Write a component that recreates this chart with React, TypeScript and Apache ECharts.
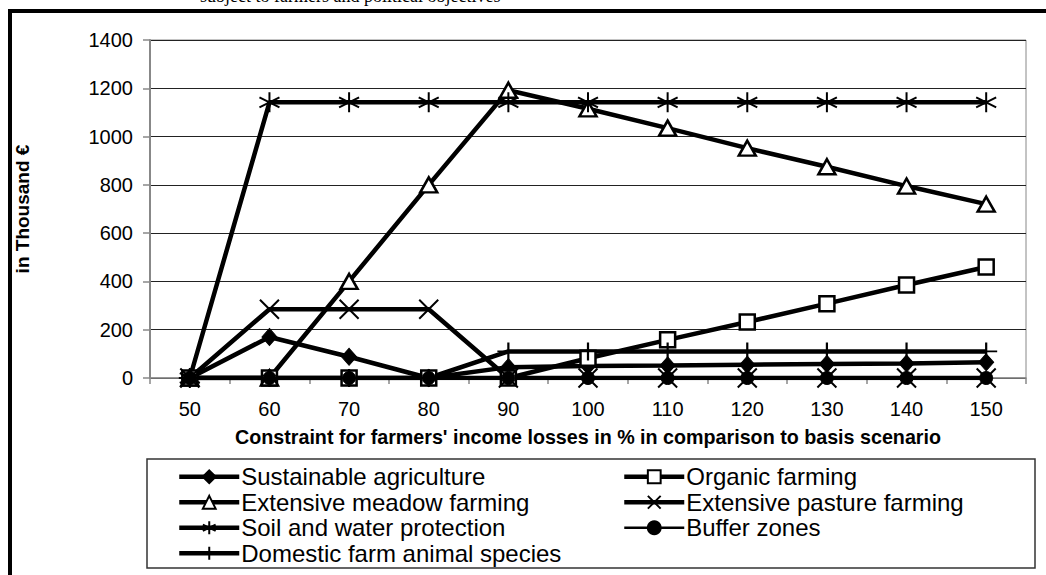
import React, { useEffect, useRef } from "react";
import * as echarts from "echarts";

const categories = ["50", "60", "70", "80", "90", "100", "110", "120", "130", "140", "150"];

const sustainable = [0, 170, 88, 0, 45, 50, 52, 55, 58, 60, 65];
const organic = [0, 0, 0, 0, 0, 82, 158, 232, 308, 385, 460];
const meadow = [0, 0, 400, 800, 1192, 1115, 1035, 952, 875, 795, 720];
const pasture = [0, 285, 285, 285, 0, 0, 0, 0, 0, 0, 0];
const soilWater = [0, 1142, 1142, 1142, 1142, 1142, 1142, 1142, 1142, 1142, 1142];
const buffer = [0, 0, 0, 0, 0, 0, 0, 0, 0, 0, 0];
const domestic = [0, 0, 0, 0, 110, 110, 110, 110, 110, 110, 110];

const seriesNames = [
  "Sustainable agriculture",
  "Organic farming",
  "Extensive meadow farming",
  "Extensive pasture farming",
  "Soil and water protection",
  "Buffer zones",
  "Domestic farm animal species",
];

const yTicks = { min: 0, max: 1400, interval: 200 };

const SANS = "'Liberation Sans', Arial, sans-serif";

const X_PATH = "path://M0,0L10,10M10,0L0,10";
const STAR_PATH = "path://M5,0L5,10M0.7,2.5L9.3,7.5M0.7,7.5L9.3,2.5";
const PLUS_PATH = "path://M5,0L5,10M0,5L10,5";

export default function App() {
  const ref = useRef<HTMLDivElement>(null);
  useEffect(() => {
    if (!ref.current) return;
    const chart = echarts.init(ref.current, null, { renderer: "svg" });
    const lineW = 4.5;
    const mk = (
      name: string,
      data: number[],
      symbol: string,
      symbolSize: any,
      fill: string,
      borderWidth: number,
      width = lineW
    ) => ({
      name,
      type: "line",
      data,
      symbol,
      symbolSize,
      showAllSymbol: true,
      lineStyle: { color: "#000", width },
      itemStyle: { color: fill, borderColor: "#000", borderWidth },
      emphasis: { disabled: true },
    });
    const legendText = {
      color: "#000",
      fontSize: 24,
      fontFamily: SANS,
      lineHeight: 25.5,
      padding: [0, 0, 0, -3],
    };
    chart.setOption({
      animation: false,
      backgroundColor: "#fff",
      grid: {
        left: 150,
        top: 40,
        right: 20,
        bottom: 197,
        show: true,
        borderColor: "#888",
        borderWidth: 1,
      },
      xAxis: {
        type: "category",
        data: categories,
        boundaryGap: true,
        axisLine: { lineStyle: { color: "#888", width: 1.5 } },
        axisTick: { show: true, length: 6, lineStyle: { color: "#888", width: 1.5 } },
        axisLabel: { color: "#000", fontSize: 20, fontFamily: SANS, margin: 21 },
        name: "Constraint for farmers' income losses in % in comparison to basis scenario",
        nameLocation: "middle",
        nameGap: 49,
        nameTextStyle: { color: "#000", fontSize: 19.7, fontWeight: "bold", fontFamily: SANS },
      },
      yAxis: {
        type: "value",
        min: yTicks.min,
        max: yTicks.max,
        interval: yTicks.interval,
        axisLine: { show: true, lineStyle: { color: "#888", width: 2 } },
        axisTick: { show: true, length: 7, lineStyle: { color: "#888", width: 1.5 } },
        axisLabel: {
          color: "#000",
          fontSize: 20,
          fontFamily: SANS,
          margin: 17,
          formatter: (v: number) => String(v),
        },
        splitLine: { show: true, lineStyle: { color: "#222", width: 1 } },
        name: "in Thousand €",
        nameLocation: "middle",
        nameGap: 118,
        nameTextStyle: { color: "#000", fontSize: 19, fontWeight: "bold", fontFamily: SANS },
      },
      legend: [
        {
          orient: "vertical",
          left: 177,
          top: 464,
          padding: 0,
          itemWidth: 60,
          itemHeight: 16,
          itemGap: 0,
          selectedMode: false,
          lineStyle: { width: "inherit" },
          textStyle: legendText,
          data: [seriesNames[0], seriesNames[2], seriesNames[4], seriesNames[6]],
        },
        {
          orient: "vertical",
          left: 622,
          top: 464,
          padding: 0,
          itemWidth: 60,
          itemHeight: 16,
          itemGap: 0,
          selectedMode: false,
          lineStyle: { width: "inherit" },
          textStyle: legendText,
          data: [seriesNames[1], seriesNames[3], seriesNames[5]],
        },
      ],
      graphic: [
        {
          type: "polyline",
          shape: { points: [[10, 620], [10, 11], [1080, 11]] },
          style: { stroke: "#000", lineWidth: 4, fill: "none" },
          silent: true,
        },
        {
          type: "rect",
          shape: { x: 147, y: 459, width: 888, height: 109 },
          style: { stroke: "#333", lineWidth: 1.5, fill: "none" },
          silent: true,
        },
        {
          type: "text",
          x: 200,
          y: -4,
          style: {
            text: "subject to farmers and political objectives",
            fill: "#000",
            font: "18px 'Liberation Serif', 'Times New Roman', serif",
            verticalAlign: "middle",
            align: "left",
          },
          silent: true,
        },
      ],
      series: [
        mk(seriesNames[0], sustainable, "diamond", [15, 17], "#000", 1),
        mk(seriesNames[1], organic, "rect", 15, "#fff", 2.5),
        mk(seriesNames[2], meadow, "triangle", [17, 15], "#fff", 2.5),
        mk(seriesNames[3], pasture, X_PATH, 19, "#000", 2),
        mk(seriesNames[4], soilWater, STAR_PATH, 20, "#000", 2),
        mk(seriesNames[5], buffer, "circle", 13, "#000", 1, 2.5),
        mk(seriesNames[6], domestic, PLUS_PATH, [22, 18], "#000", 2),
      ],
    });
    return () => chart.dispose();
  }, []);
  return (
    <div
      ref={ref}
      style={{ position: "fixed", left: 0, top: 0, width: 1046, height: 575 }}
    />
  );
}
